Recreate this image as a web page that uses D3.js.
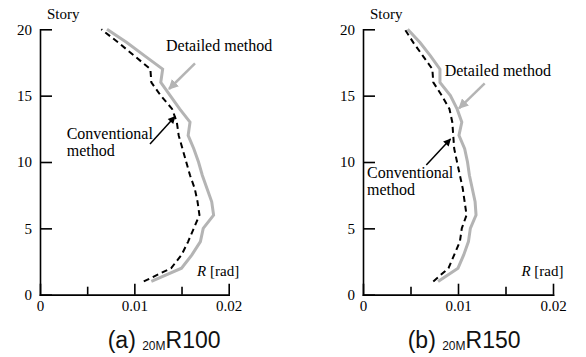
<!DOCTYPE html>
<html>
<head>
<meta charset="utf-8">
<script src="https://cdn.jsdelivr.net/npm/d3@7"></script>
<style>
  body { margin: 0; background: #fff; }
  svg { display: block; }
</style>
</head>
<body>
<svg width="586" height="357"></svg>
<script>
// story levels (y categories)
let stories = [1, 2, 3, 4, 5, 6, 7, 8, 9, 10, 11, 12, 13, 14, 15, 16, 17, 18, 19, 20]

// (a) 20MR100 - story drift angle R [rad]
let detailedA = [0.0118, 0.0150, 0.0161, 0.0170, 0.0173, 0.0184, 0.0182, 0.0177, 0.0172, 0.0168,
  0.0163, 0.0157, 0.0159, 0.0148, 0.0138, 0.0128, 0.0130, 0.0111, 0.0092, 0.0071]
let conventionalA = [0.0110, 0.0139, 0.0150, 0.0157, 0.0163, 0.0169, 0.0167, 0.0164, 0.0159, 0.0155,
  0.0151, 0.0147, 0.0145, 0.0140, 0.0128, 0.0118, 0.0117, 0.0100, 0.0083, 0.0065]

// (b) 20MR150
let detailedB = [0.0079, 0.0100, 0.0106, 0.0111, 0.0113, 0.0119, 0.0118, 0.0115, 0.0112, 0.0110,
  0.0107, 0.0101, 0.0104, 0.0099, 0.0092, 0.0081, 0.0081, 0.0071, 0.0060, 0.0047]
let conventionalB = [0.0074, 0.0090, 0.0096, 0.0102, 0.0104, 0.0109, 0.0107, 0.0105, 0.0102, 0.0099,
  0.0096, 0.0095, 0.0094, 0.0091, 0.0083, 0.0074, 0.0073, 0.0063, 0.0053, 0.0044]

let xMajorTicks = [0, 0.01, 0.02]
let xMinorTicks = [0.005, 0.015]
let xTickLabels = ['0', '0.01', '0.02']
let yTicks = [0, 5, 10, 15, 20]

let plotTop = 29.3
let plotBottom = 294.7
let serif = "'Liberation Serif', 'DejaVu Serif', serif"

let svg = d3.select('svg')

let defs = svg.append('defs')
defs.append('marker')
  .attr('id', 'headGray')
  .attr('viewBox', '0 0 10 10')
  .attr('refX', 9).attr('refY', 5)
  .attr('markerWidth', 4).attr('markerHeight', 4)
  .attr('markerUnits', 'strokeWidth')
  .attr('orient', 'auto')
  .append('path').attr('d', 'M0,0L10,5L0,10z').attr('fill', '#b4b4b4')
defs.append('marker')
  .attr('id', 'headBlack')
  .attr('viewBox', '0 0 10 10')
  .attr('refX', 9).attr('refY', 5)
  .attr('markerWidth', 6).attr('markerHeight', 5)
  .attr('markerUnits', 'strokeWidth')
  .attr('orient', 'auto')
  .append('path').attr('d', 'M0,0L10,5L0,10z').attr('fill', '#000')

let panels = [
  {
    left: 40, right: 228.7,
    detailed: detailedA, conventional: conventionalA,
    tag: '(a) ', name: 'R100', captionX: 107.7,
    detailedLabel: [166, 51], grayArrow: [[195, 63.3], [169, 89]],
    convLabel: [66.7, 139.3], blackArrow: [[150, 144], [175, 116.5]]
  },
  {
    left: 363, right: 553,
    detailed: detailedB, conventional: conventionalB,
    tag: '(b) ', name: 'R150', captionX: 407.7,
    detailedLabel: [444.7, 76], grayArrow: [[484.7, 83.3], [459, 108.3]],
    convLabel: [367, 178.3], blackArrow: [[426.3, 165], [450.5, 139]]
  }
]

panels.forEach(p => {
  let xScale = d3.scaleLinear()
    .domain([0, 0.02])
    .range([p.left, p.right])
  let yScale = d3.scaleLinear()
    .domain([0, 20])
    .range([plotBottom, plotTop])

  let g = svg.append('g')

  // lines
  let line = d3.line()
    .x(d => xScale(d[0]))
    .y(d => yScale(d[1]))

  g.append('path')
    .datum(stories.map((s, i) => [p.detailed[i], s]))
    .attr('d', line)
    .attr('fill', 'none')
    .attr('stroke', '#b4b4b4')
    .attr('stroke-width', 3)

  g.append('path')
    .datum(stories.map((s, i) => [p.conventional[i], s]))
    .attr('d', line)
    .attr('fill', 'none')
    .attr('stroke', '#000')
    .attr('stroke-width', 2)
    .attr('stroke-dasharray', '6,4')

  // axes
  let xAxis = d3.axisBottom(xScale)
    .tickValues(xMajorTicks)
    .tickSize(-11)
    .tickSizeOuter(0)
    .tickPadding(6)
    .tickFormat((d, i) => xTickLabels[i])
  let xMinor = d3.axisBottom(xScale)
    .tickValues(xMinorTicks)
    .tickSize(-8)
    .tickSizeOuter(0)
    .tickFormat('')
  let yAxis = d3.axisLeft(yScale)
    .tickValues(yTicks)
    .tickSize(-12)
    .tickSizeOuter(0)
    .tickPadding(8)

  g.append('g')
    .attr('transform', 'translate(' + [0, plotBottom] + ')')
    .call(xAxis)
  g.append('g')
    .attr('transform', 'translate(' + [0, plotBottom] + ')')
    .call(xMinor)
  g.append('g')
    .attr('transform', 'translate(' + [p.left, 0] + ')')
    .call(yAxis)

  g.selectAll('.domain, .tick line')
    .attr('stroke', '#000')
    .attr('stroke-width', 1.6)
  g.selectAll('.tick text')
    .attr('font-family', serif)
    .attr('font-size', 15)
    .attr('fill', '#000')
  g.selectAll('.domain').attr('stroke-linecap', 'square')

  // axis titles
  g.append('text')
    .attr('font-family', serif)
    .attr('x', p.left + 7)
    .attr('y', 19)
    .attr('font-size', 15)
    .text('Story')

  let rLabel = g.append('text')
    .attr('font-family', serif)
    .attr('x', p.right + 10.5)
    .attr('y', 276)
    .attr('text-anchor', 'end')
    .attr('font-size', 15)
  rLabel.append('tspan').attr('font-style', 'italic').text('R')
  rLabel.append('tspan').text(' [rad]')

  // annotations
  g.append('text')
    .attr('font-family', serif)
    .attr('x', p.detailedLabel[0])
    .attr('y', p.detailedLabel[1])
    .attr('font-size', 16)
    .text('Detailed method')
  g.append('line')
    .attr('x1', p.grayArrow[0][0]).attr('y1', p.grayArrow[0][1])
    .attr('x2', p.grayArrow[1][0]).attr('y2', p.grayArrow[1][1])
    .attr('stroke', '#b4b4b4')
    .attr('stroke-width', 2.5)
    .attr('marker-end', 'url(#headGray)')

  let conv = g.append('text')
    .attr('font-family', serif)
    .attr('font-size', 16)
  conv.append('tspan').attr('x', p.convLabel[0]).attr('y', p.convLabel[1]).text('Conventional')
  conv.append('tspan').attr('x', p.convLabel[0]).attr('y', p.convLabel[1] + 17).text('method')
  g.append('line')
    .attr('x1', p.blackArrow[0][0]).attr('y1', p.blackArrow[0][1])
    .attr('x2', p.blackArrow[1][0]).attr('y2', p.blackArrow[1][1])
    .attr('stroke', '#000')
    .attr('stroke-width', 1.5)
    .attr('marker-end', 'url(#headBlack)')

  // caption
  let cap = g.append('text')
    .attr('x', p.captionX)
    .attr('y', 348)
    .attr('font-family', "'Liberation Sans', Arial, sans-serif")
    .attr('font-size', 23)
    .attr('fill', '#111')
  cap.append('tspan').text(p.tag)
  cap.append('tspan').attr('font-size', 12).attr('dy', 2).text('20M')
  cap.append('tspan').attr('dy', -2).text(p.name)
})
</script>
</body>
</html>
